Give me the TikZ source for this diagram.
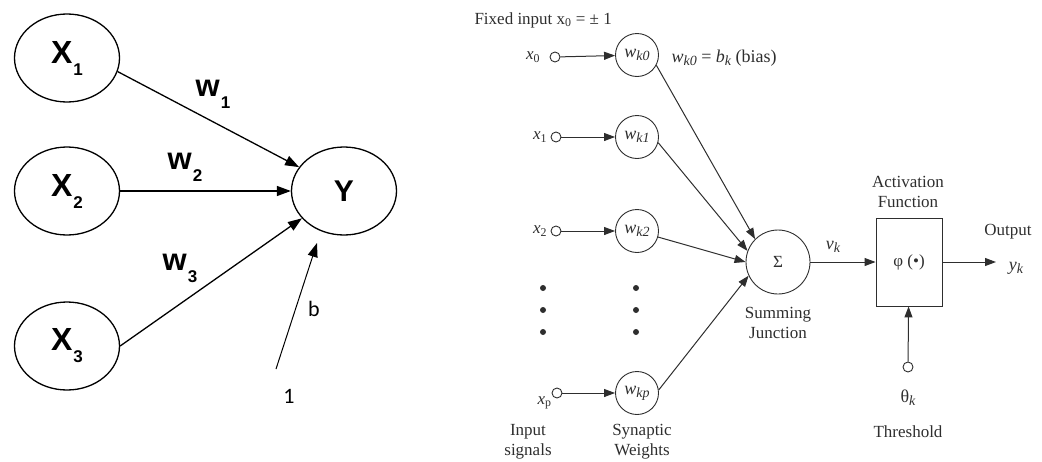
\documentclass[tikz,border=0pt]{standalone}
\usepackage{fontspec}
\setmainfont{Liberation Serif}
\newfontfamily\arialfont{Liberation Sans}
\newfontfamily\calibfont{Carlito}
\usetikzlibrary{arrows.meta,positioning,shapes.geometric}
\definecolor{nngray}{HTML}{2E2E2E}

% bold letter with a deep subscript (left diagram)
\newcommand{\boldsub}[3]{{\arialfont\bfseries\fontsize{#1}{#1}\selectfont #2}%
  \raisebox{-12pt}{\arialfont\bfseries\fontsize{17}{17}\selectfont\kern1pt #3}}
% italic symbol with a slightly lowered italic subscript (right diagram)
\newcommand{\isub}[2]{\textit{#1}\raisebox{-3pt}{\fontsize{14}{14}\selectfont\itshape #2}}
\newcommand{\xsub}[1]{\textit{x}\textsubscript{#1}}

\begin{document}
\begin{tikzpicture}[x=1pt, y=-1pt,
  neuron/.style={ellipse, draw, line width=1.3pt, minimum width=105pt,
                 minimum height=88pt, inner sep=0pt},
  wire/.style={-{Triangle[length=14pt,width=10pt]}, line width=1.3pt},
  wcirc/.style={circle, draw=nngray, line width=0.9pt, minimum size=43pt,
                inner sep=0pt, font=\fontsize{18}{18}\selectfont, text=nngray},
  port/.style={circle, draw=nngray, line width=0.9pt, minimum size=10pt, inner sep=0pt},
  sig/.style={-{Triangle[length=11pt,width=8pt]}, line width=1pt, draw=nngray},
  lbl/.style={font=\fontsize{17}{20}\selectfont, text=nngray, align=center},
]
\useasboundingbox (0,0) rectangle (1042,461);

%% ---- left: simple perceptron ----
\node[neuron] (x1) at (67,58)  {\boldsub{32}{X}{1}};
\node[neuron] (x2) at (67,191) {\boldsub{32}{X}{2}};
\node[neuron] (x3) at (67,346) {\boldsub{32}{X}{3}};
\node[neuron] (y)  at (344,191) {\arialfont\bfseries\fontsize{30}{30}\selectfont Y};

\draw[wire] (x1.-15) -- (y.152);
\draw[wire] (x2.east) -- (y.west);
\draw[wire] (x3.east) -- (y.213);

\node (w1) at (213,94)  {\boldsub{31}{w}{1}};
\node (w2) at (185,167) {\boldsub{31}{w}{2}};
\node (w3) at (180,268) {\boldsub{31}{w}{3}};

% bias input
\coordinate (bfrom) at (276,369);
\coordinate (bto) at (317,243);
\draw[wire, line width=1pt] (bfrom) -- (bto);
\node[font=\calibfont\fontsize{22}{22}\selectfont] (blbl) at (314,309) {b};
\node[font=\calibfont\fontsize{22}{22}\selectfont] (one) at (289,396) {1};

%% ---- right: neuron model ----
\node[lbl, anchor=west] (fixed) at (471,20) {Fixed input x\textsubscript{0} = ± 1};

% inputs and synaptic weights
\node[port] (in0) at (555,57)  {};
\node[port] (in1) at (556,137) {};
\node[port] (in2) at (556,231) {};
\node[port] (inp) at (557,393) {};
\node[lbl, left=6pt of in0] (lx0) {\xsub{0}};
\node[lbl, left=0pt of in1] (lx1) {\xsub{1}};
\node[lbl, left=0pt of in2] (lx2) {\xsub{2}};
\node[lbl, below left=-4pt and -2pt of inp] (lxp) {\xsub{p}};

\node[wcirc] (w0) at (637,55)  {\isub{w}{k0}};
\node[wcirc] (wa) at (637,137) {\isub{w}{k1}};
\node[wcirc] (wb) at (637,231) {\isub{w}{k2}};
\node[wcirc] (wp) at (637,393) {\isub{w}{kp}};
\node[lbl, font=\fontsize{18}{18}\selectfont, anchor=west] (bias) at (668,58)
  {\isub{w}{k0} = \isub{b}{k} (bias)};

\draw[sig] (in0) -- (w0);
\draw[sig] (in1) -- (wa);
\draw[sig] (in2) -- (wb);
\draw[sig] (inp) -- (wp);

\foreach \yy in {288,310,332} {
  \fill[nngray] (543,\yy) circle (3pt);
  \fill[nngray] (636,\yy) circle (3pt);
}

% summing junction
\node[circle, draw=nngray, line width=0.9pt, minimum size=64pt, inner sep=0pt,
      font=\fontsize{17}{17}\selectfont, text=nngray] (sum) at (778,262) {Σ};
\draw[sig] (w0.-28) -- (sum.135);
\draw[sig] (wa.-15) -- (sum.160);
\draw[sig] (wb.-16) -- (sum.180);
\draw[sig] (wp.8) -- (sum.205);

% activation function
\node[draw=nngray, line width=0.9pt, minimum width=66pt, minimum height=88pt,
      font=\fontsize{17}{17}\selectfont, text=nngray] (act) at (909,262) {φ (•)};
\draw[sig] (sum) -- (act);
\node[lbl, font=\fontsize{18}{18}\selectfont] (vk) at (833,247) {\isub{v}{k}};

\coordinate (out) at (996,262);
\draw[sig] (act) -- (out);
\node[lbl] (outlbl) at (1008,232) {Output};
\node[lbl, font=\fontsize{18}{18}\selectfont] (yk) at (1016,268) {\isub{y}{k}};

% threshold
\node[port] (thr) at (908,367) {};
\draw[sig] (thr) -- (act);
\node[lbl, font=\fontsize{18}{18}\selectfont] (theta) at (908,398) {θ\raisebox{-3pt}{\fontsize{14}{14}\selectfont\itshape k}};

%% ---- captions ----
\node[lbl] (actlbl) at (908,192) {Activation\\Function};
\node[lbl] (sumlbl) at (778,323) {Summing\\Junction};
\node[lbl] (inlbl) at (528,442) {Input\\signals};
\node[lbl] (synlbl) at (642,442) {Synaptic\\Weights};
\node[lbl] (thrlbl) at (908,432) {Threshold};

\end{tikzpicture}
\end{document}
